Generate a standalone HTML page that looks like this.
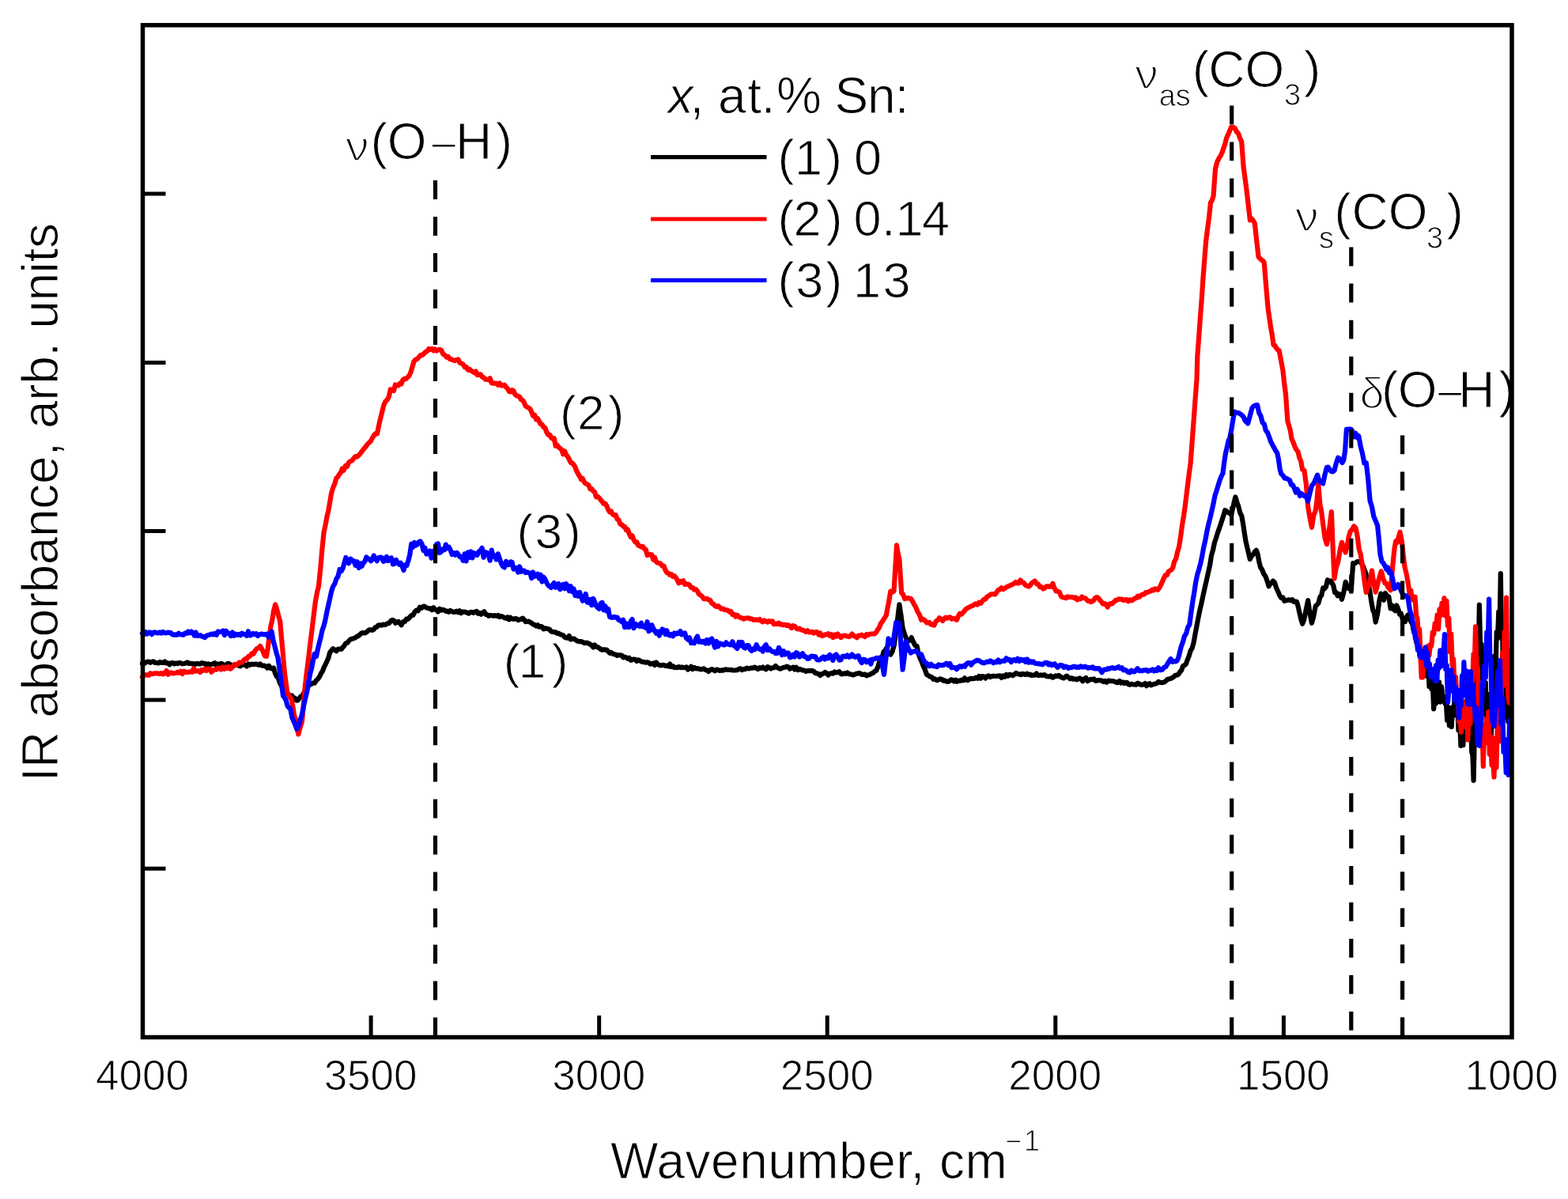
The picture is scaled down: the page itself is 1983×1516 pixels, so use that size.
<!DOCTYPE html>
<html><head><meta charset="utf-8"><title>IR absorbance spectra</title>
<style>html,body{margin:0;padding:0;background:#fff;}svg{display:block;}</style>
</head><body>
<svg width="1983" height="1516" viewBox="0 0 1983 1516">
<rect width="1983" height="1516" fill="#fff"/>
<style>text{stroke:#fff;stroke-width:1px}</style>
<g fill="none" stroke-linejoin="round" stroke-linecap="round" stroke-width="6.2">
<path d="M180.0,838.9 182.0,839.1 184.1,837.7 186.1,836.9 188.1,836.6 190.2,837.8 192.2,836.7 194.2,836.4 196.2,838.0 198.3,838.0 200.3,838.4 202.3,837.0 204.4,837.9 206.4,837.9 208.4,836.5 210.5,838.5 212.5,838.4 214.5,840.4 216.6,838.3 218.6,838.0 220.6,839.4 222.6,838.4 224.7,839.1 226.7,837.9 228.7,838.5 230.8,839.3 232.8,839.0 234.8,838.5 236.9,837.4 238.9,839.0 240.9,838.7 243.0,839.4 245.0,839.0 247.0,839.9 249.0,838.9 251.1,839.2 253.1,839.7 255.1,838.1 257.2,838.8 259.2,838.8 261.2,841.4 263.3,839.4 265.3,840.2 267.3,840.2 269.4,839.4 271.4,838.2 273.4,840.8 275.4,839.5 277.5,840.7 279.5,838.8 281.5,839.7 283.6,841.5 285.6,841.7 287.6,839.1 289.7,839.2 291.7,840.6 293.7,841.4 295.8,841.0 297.8,841.2 299.8,840.0 301.8,841.7 303.9,842.3 305.9,840.9 307.9,840.0 310.0,840.7 312.0,842.4 314.1,839.5 316.2,840.9 318.4,839.6 320.5,840.2 322.6,839.7 324.8,839.7 326.9,840.8 329.0,839.4 331.2,841.6 333.5,841.5 335.8,842.4 338.0,844.6 340.0,841.7 342.0,844.9 344.0,845.4 346.0,844.4 348.0,851.3 350.0,855.4 352.0,857.5 354.0,863.8 356.0,867.0 358.0,871.5 359.9,873.4 361.8,876.5 363.6,876.9 365.5,878.4 367.4,880.4 369.2,879.5 371.1,883.8 372.9,882.8 374.8,885.6 376.6,885.4 378.4,882.9 380.2,880.8 382.0,880.4 384.2,876.2 386.5,872.0 388.8,869.4 391.0,865.5 393.2,865.4 395.5,863.6 397.8,863.7 400.0,860.3 402.1,858.5 404.3,855.2 406.0,851.4 407.8,848.9 409.5,844.4 411.4,840.5 413.3,836.6 415.2,832.2 417.1,825.2 419.0,822.7 421.1,820.2 423.2,821.6 425.4,823.3 427.5,820.9 429.6,820.5 431.7,820.8 433.6,818.4 435.5,816.2 437.4,813.2 439.3,812.8 441.2,810.4 443.2,808.3 445.2,807.8 447.2,807.1 449.2,806.5 451.2,804.8 453.3,804.1 455.3,802.2 457.3,800.4 459.3,799.9 461.3,800.4 463.3,799.4 465.2,797.8 467.1,796.3 469.0,796.3 470.9,796.9 472.8,795.8 474.7,793.0 476.6,792.8 478.5,790.6 480.4,790.2 482.3,790.7 484.3,789.7 486.3,789.9 488.3,789.4 490.2,788.2 492.2,787.9 494.2,785.2 496.2,783.9 498.2,784.7 500.1,787.8 502.0,786.4 503.9,785.9 505.8,788.2 507.7,790.3 509.8,786.0 511.9,786.0 514.0,782.7 516.1,782.8 518.2,780.4 520.3,778.1 522.4,778.0 524.5,773.7 526.6,771.6 528.8,772.3 530.9,767.7 533.0,768.9 534.9,767.1 536.8,766.6 538.7,768.1 540.6,768.8 542.5,769.3 544.4,769.4 546.3,771.1 548.2,768.2 550.1,770.5 552.0,771.2 553.9,773.4 555.9,769.7 557.8,771.5 559.8,770.8 561.7,771.4 563.7,772.8 565.6,772.7 567.6,773.9 569.5,771.9 571.5,772.9 573.4,773.9 575.4,773.8 577.3,772.7 579.3,774.3 581.2,772.3 583.2,775.2 585.1,773.6 587.1,773.5 589.0,774.0 591.0,774.7 592.9,775.7 594.9,774.0 596.8,773.9 598.8,774.9 600.7,773.6 602.7,772.9 604.6,775.8 606.5,774.9 608.4,776.7 610.3,774.9 612.2,773.3 614.1,776.8 616.0,777.0 617.9,778.8 619.8,778.0 621.7,778.1 623.7,778.7 625.8,778.1 627.8,778.9 629.8,777.9 631.9,780.1 633.9,779.1 635.9,779.8 638.0,781.3 640.0,781.9 641.9,780.2 643.8,783.3 645.7,780.9 647.6,782.5 649.5,782.8 651.4,782.2 653.3,782.3 655.2,784.1 657.1,783.3 659.0,783.0 660.9,781.6 662.8,783.4 664.7,786.1 666.6,786.0 668.5,785.6 670.4,786.7 672.3,787.8 674.2,789.6 676.1,790.1 678.0,791.5 679.9,790.3 681.8,792.7 683.7,791.9 685.6,792.7 687.5,795.4 689.4,794.4 691.3,794.8 693.2,795.3 695.1,795.8 697.0,798.4 698.9,799.0 700.8,799.1 702.7,799.4 704.6,801.0 706.5,800.7 708.4,802.0 710.3,802.7 712.2,803.2 714.1,805.6 716.0,806.5 717.9,806.7 719.8,804.0 721.7,808.4 723.6,807.9 725.5,807.4 727.4,808.5 729.3,810.2 731.2,810.9 733.1,811.2 735.0,811.1 736.9,811.7 738.8,813.1 740.7,812.8 742.6,812.7 744.5,813.6 746.4,814.7 748.3,815.8 750.2,818.4 752.1,815.4 754.0,817.9 755.9,818.1 757.8,819.3 759.7,821.1 761.6,821.8 763.5,821.2 765.4,821.6 767.3,821.6 769.2,823.6 771.1,825.8 773.0,825.0 774.9,826.6 776.8,827.3 778.7,827.6 780.6,828.9 782.5,828.3 784.4,828.3 786.3,828.5 788.2,831.3 790.1,830.6 792.0,831.3 793.9,832.9 795.8,831.8 797.7,834.8 799.6,834.2 801.5,833.5 803.4,833.8 805.3,836.0 807.2,834.3 809.1,835.3 811.0,836.4 812.9,836.9 814.8,837.1 816.7,837.7 818.6,837.3 820.5,837.9 822.4,839.6 824.3,839.3 826.2,838.5 828.1,841.0 830.0,837.6 831.9,840.0 833.8,840.9 835.7,841.5 837.6,841.0 839.5,840.8 841.4,842.0 843.3,841.6 845.2,842.6 847.1,839.5 849.0,843.1 850.9,842.1 852.8,844.0 854.7,843.9 856.6,844.1 858.5,843.1 860.4,844.1 862.3,843.5 864.2,844.2 866.1,844.0 868.0,843.4 870.0,846.5 872.0,845.4 874.0,842.8 876.0,846.0 878.0,843.9 880.0,845.3 882.0,845.2 884.0,845.5 886.0,846.5 888.1,846.2 890.1,845.3 892.1,847.0 894.1,847.5 896.1,849.0 898.2,846.9 900.2,846.2 902.2,847.1 904.2,848.3 906.2,846.7 908.2,846.8 910.2,848.0 912.3,847.4 914.3,847.6 916.3,846.7 918.3,846.4 920.3,846.9 922.4,847.0 924.4,846.8 926.4,847.5 928.4,847.5 930.4,847.4 932.4,847.2 934.5,845.7 936.5,845.3 938.5,847.1 940.5,846.1 942.5,846.1 944.5,844.6 946.5,845.4 948.6,844.9 950.6,844.5 952.6,844.6 954.6,843.6 956.6,845.1 958.6,846.1 960.7,844.1 962.7,844.8 964.7,843.5 966.7,845.2 968.7,846.3 970.8,843.1 972.8,844.0 974.8,845.5 976.8,844.4 978.8,844.2 980.8,842.1 982.8,844.0 984.9,845.1 986.9,845.7 988.9,844.9 990.9,843.8 992.9,843.7 995.0,842.6 997.0,843.4 999.0,845.7 1001.0,844.5 1003.0,843.6 1005.0,846.5 1007.0,843.8 1009.1,847.1 1011.1,845.8 1013.1,846.7 1015.1,847.5 1017.1,847.5 1019.2,848.9 1021.2,848.1 1023.2,848.2 1025.2,848.2 1027.2,847.9 1029.2,849.0 1031.2,851.1 1033.3,851.3 1035.3,852.3 1037.3,854.0 1039.3,852.0 1041.3,851.8 1043.3,850.0 1045.4,851.1 1047.4,853.5 1049.4,851.8 1051.4,851.2 1053.4,851.6 1055.5,849.4 1057.5,850.5 1059.5,850.0 1061.5,849.2 1063.5,852.1 1065.5,852.4 1067.5,851.3 1069.6,851.8 1071.6,850.5 1073.6,852.1 1075.6,852.4 1077.6,853.2 1079.7,853.3 1081.7,852.3 1083.7,851.7 1085.7,851.1 1087.7,851.4 1089.8,852.8 1091.8,852.9 1093.9,852.5 1095.9,854.3 1098.0,853.4 1100.0,852.9 1102.1,851.7 1104.2,850.9 1106.2,848.8 1108.3,847.7 1110.4,842.8 1112.5,835.7 1114.2,831.9 1116.0,829.3 1117.7,823.8 1119.3,823.1 1121.0,819.6 1122.8,824.4 1124.5,826.6 1126.3,827.6 1128.7,823.4 1131.0,814.8 1133.1,796.1 1135.3,781.2 1137.4,764.4 1139.5,778.2 1141.6,794.1 1143.4,799.9 1145.3,805.4 1147.1,809.7 1149.0,809.8 1150.8,809.7 1152.7,806.1 1155.0,811.5 1157.3,816.1 1159.6,816.9 1161.4,825.9 1163.3,831.6 1165.1,835.5 1167.4,841.5 1169.7,846.4 1172.0,852.9 1174.1,854.2 1176.2,855.6 1178.3,856.0 1180.4,858.8 1182.5,858.4 1184.6,860.1 1186.6,859.8 1188.7,858.3 1190.8,858.7 1192.8,860.6 1194.9,860.4 1197.0,861.7 1198.9,861.9 1200.8,861.1 1202.8,859.3 1204.7,859.7 1206.6,861.4 1208.5,859.7 1210.4,861.8 1212.3,860.5 1214.2,861.0 1216.2,859.6 1218.1,860.3 1220.0,857.3 1222.0,859.7 1224.0,860.1 1226.1,858.2 1228.1,857.9 1230.1,858.2 1232.1,858.0 1234.2,856.7 1236.2,857.8 1238.2,855.1 1240.2,857.7 1242.2,855.1 1244.3,855.6 1246.3,857.6 1248.3,855.2 1250.3,854.4 1252.3,856.1 1254.4,855.0 1256.4,854.7 1258.4,855.0 1260.4,854.9 1262.5,854.5 1264.5,854.4 1266.5,856.9 1268.5,854.4 1270.6,855.8 1272.6,853.1 1274.7,854.8 1276.7,852.8 1278.8,853.3 1280.8,854.2 1282.9,852.7 1284.9,851.0 1287.0,852.2 1289.0,852.3 1291.0,853.2 1293.0,851.8 1294.9,852.6 1296.9,853.1 1298.9,851.6 1300.9,853.2 1302.9,852.7 1304.8,854.1 1306.8,853.6 1308.8,853.7 1310.8,851.6 1312.8,854.0 1314.8,853.8 1316.9,853.4 1318.9,853.9 1320.9,853.2 1322.9,854.8 1324.9,855.4 1326.9,855.4 1328.9,854.4 1331.0,856.7 1333.0,856.0 1335.0,854.3 1337.0,855.2 1339.0,853.9 1341.0,855.6 1343.1,856.6 1345.1,857.4 1347.1,855.9 1349.1,854.7 1351.2,856.5 1353.2,858.3 1355.2,857.2 1357.2,858.6 1359.2,858.3 1361.3,859.3 1363.3,858.5 1365.3,857.4 1367.3,858.8 1369.3,861.1 1371.4,858.2 1373.4,857.1 1375.4,861.2 1377.4,859.8 1379.4,858.9 1381.5,859.2 1383.5,858.4 1385.5,860.9 1387.5,860.5 1389.6,860.0 1391.6,860.4 1393.6,860.6 1395.6,862.2 1397.6,861.0 1399.6,862.7 1401.7,860.6 1403.7,860.9 1405.7,861.1 1407.7,861.2 1409.7,861.7 1411.7,862.9 1413.7,863.2 1415.8,861.0 1417.8,863.5 1419.8,862.4 1421.8,864.0 1423.6,862.9 1425.3,863.0 1427.1,865.3 1428.9,865.8 1430.8,864.8 1432.7,865.3 1434.7,865.5 1436.6,865.8 1438.5,863.8 1440.4,864.4 1442.3,865.7 1444.2,866.0 1446.2,865.2 1448.1,864.1 1450.0,867.2 1451.9,865.2 1453.8,864.1 1455.6,866.4 1457.5,865.6 1459.4,865.1 1461.2,864.6 1463.1,863.9 1465.0,862.0 1467.5,862.9 1470.0,863.1 1472.1,862.5 1474.1,861.4 1476.2,859.1 1478.2,858.6 1480.3,858.0 1482.3,857.2 1484.4,855.7 1486.4,853.9 1488.5,853.6 1490.4,852.5 1492.3,849.5 1494.2,847.5 1496.0,842.3 1497.9,841.2 1499.8,839.8 1501.7,834.3 1503.7,829.3 1505.7,822.7 1507.6,819.7 1509.6,812.5 1511.6,801.4 1513.5,791.5 1515.5,780.8 1517.5,771.2 1519.6,762.0 1521.7,752.2 1523.9,742.1 1526.0,733.1 1528.1,723.6 1530.1,714.7 1532.0,702.5 1534.0,695.5 1536.0,686.0 1537.9,680.4 1539.8,674.3 1541.7,668.9 1543.5,663.8 1545.4,657.8 1547.3,652.1 1549.2,645.2 1551.2,646.3 1553.2,648.2 1555.1,648.4 1557.1,651.0 1558.9,643.6 1560.6,635.6 1562.4,628.5 1564.4,635.2 1566.3,640.4 1568.3,648.4 1570.3,652.4 1572.1,662.2 1573.8,673.9 1575.6,684.9 1577.3,692.1 1579.1,699.6 1580.8,707.0 1582.8,703.1 1584.8,701.2 1586.8,697.7 1588.8,695.8 1590.5,700.4 1592.3,710.3 1594.0,717.1 1596.1,720.1 1598.2,725.6 1600.4,728.5 1602.5,734.4 1604.6,741.3 1606.4,738.2 1608.1,737.0 1609.9,734.6 1612.0,736.6 1614.1,743.3 1616.2,747.8 1618.3,752.8 1620.4,756.1 1622.4,755.5 1624.4,759.9 1626.4,759.3 1628.3,758.8 1630.3,758.3 1632.3,759.3 1634.3,758.2 1636.3,760.8 1638.2,760.6 1640.0,760.9 1641.8,767.3 1643.5,775.2 1645.3,782.8 1647.1,788.7 1648.9,784.6 1650.7,775.8 1652.4,768.0 1654.2,759.2 1656.6,775.7 1659.0,787.8 1661.3,779.3 1663.7,766.5 1665.6,764.6 1667.5,762.3 1669.4,755.0 1671.3,752.5 1673.2,743.5 1675.1,744.4 1677.0,741.9 1678.9,733.4 1680.8,736.0 1682.7,734.5 1684.5,737.2 1686.3,740.2 1688.1,749.2 1689.9,749.0 1691.7,753.4 1693.5,751.1 1695.2,751.9 1697.0,757.8 1699.3,749.0 1701.7,735.8 1703.5,740.9 1705.2,743.9 1707.0,743.5 1708.8,746.8 1711.2,712.0 1713.6,712.4 1716.0,710.4 1717.9,710.0 1719.8,710.1 1721.7,712.1 1723.6,715.4 1725.5,720.4 1727.3,724.5 1729.0,737.1 1730.8,738.9 1732.6,749.3 1734.4,761.1 1736.2,771.0 1737.9,775.1 1739.7,786.6 1742.1,776.2 1744.5,759.0 1746.4,750.6 1748.3,755.1 1750.1,758.7 1752.0,750.0 1753.9,753.6 1756.3,754.2 1758.7,769.4 1760.6,765.5 1762.5,770.5 1764.4,772.2 1766.3,765.5 1768.2,769.9 1770.0,776.7 1771.8,775.6 1773.5,781.9 1775.3,782.8 1777.1,786.1 1778.8,780.2 1780.6,777.5 1782.4,779.1 1784.3,786.0 1786.2,788.5 1788.1,799.4 1790.0,799.3 1791.3,812.5 1792.7,807.2 1794.0,820.2 1795.3,818.8 1796.7,827.3 1798.0,828.9 1799.3,841.2 1800.7,832.7 1802.0,843.9 1803.3,837.9 1804.7,854.7 1806.0,838.3 1807.5,868.0 1808.9,852.2 1810.3,871.1 1811.8,864.5 1813.2,896.3 1814.7,874.2 1816.0,889.3 1817.3,866.4 1818.7,877.7 1820.0,862.3 1821.5,887.6 1823.0,868.2 1824.5,881.7 1826.0,880.7 1827.4,889.5 1828.8,886.4 1830.2,910.8 1831.5,894.1 1832.9,917.2 1834.3,901.1 1835.7,919.0 1837.2,894.2 1838.6,904.9 1840.0,870.5 1841.5,898.0 1843.0,883.0 1844.5,923.5 1845.9,904.3 1847.4,942.9 1848.9,911.2 1850.4,942.1 1852.0,902.6 1853.5,920.0 1855.0,885.9 1856.2,919.9 1857.5,899.6 1858.8,921.9 1860.0,902.0 1861.2,950.7 1862.4,954.9 1863.6,986.8 1865.3,908.0 1867.0,895.3 1868.3,830.2 1869.6,833.5 1870.9,764.6 1872.3,824.3 1873.6,814.3 1875.0,868.6 1876.2,840.9 1877.5,901.6 1878.8,863.1 1880.0,915.2 1881.4,877.8 1882.8,939.3 1884.1,900.4 1885.5,941.5 1887.0,887.5 1888.5,898.7 1890.0,829.7 1891.3,864.9 1892.7,799.1 1894.0,807.7 1895.3,773.4 1896.5,797.7 1897.8,725.0 1898.9,795.5 1900.0,790.7 1901.3,875.7 1902.6,843.5 1904.3,907.4 1906.0,888.4 1907.3,912.7 1908.7,842.3 1910.0,884.3" stroke="#000"/>
<path d="M180.0,856.1 182.0,852.6 184.1,853.7 186.1,853.3 188.1,853.9 190.2,851.3 192.2,852.3 194.2,851.8 196.2,851.3 198.3,851.4 200.3,851.7 202.3,851.8 204.4,851.0 206.4,852.3 208.4,851.1 210.5,848.1 212.5,852.8 214.5,850.9 216.6,850.4 218.6,851.4 220.6,851.2 222.6,850.9 224.7,849.8 226.7,850.8 228.7,848.8 230.8,851.9 232.8,848.8 234.8,849.8 236.9,849.9 238.9,849.9 240.9,849.2 243.0,849.8 245.0,845.1 247.0,848.7 249.0,848.5 251.1,848.0 253.1,850.0 255.1,847.0 257.2,847.8 259.2,845.5 261.2,847.9 263.3,845.6 265.3,845.5 267.3,849.7 269.4,847.6 271.4,846.7 273.4,846.7 275.4,844.7 277.5,845.0 279.5,846.5 281.5,843.5 283.6,845.9 285.6,843.5 287.5,845.0 289.3,843.1 291.2,845.7 293.1,844.3 295.0,842.0 296.8,839.9 298.7,840.6 300.6,840.1 302.5,837.7 304.4,837.8 306.3,837.3 308.2,834.8 310.1,833.1 312.0,833.1 314.1,830.1 316.2,829.6 318.4,826.4 320.5,826.8 322.6,822.8 324.8,820.1 326.9,819.6 329.0,816.9 331.0,820.3 333.0,824.8 335.0,829.4 337.0,829.8 338.8,819.0 340.5,805.7 342.3,792.5 344.3,783.9 346.2,771.8 348.2,764.3 350.2,770.7 352.2,778.6 354.2,785.6 355.9,805.4 357.7,825.0 359.4,845.9 361.4,862.3 363.4,875.7 365.2,878.9 366.9,882.0 368.7,884.3 370.5,894.4 372.2,904.9 374.0,910.0 375.6,920.3 377.3,928.4 379.6,919.7 382.0,912.3 383.9,889.9 385.8,867.7 388.0,849.1 390.2,831.9 392.4,812.9 394.6,795.8 396.8,777.5 399.0,760.0 401.0,749.1 403.0,740.9 405.2,719.9 407.3,695.2 409.5,673.6 411.4,664.7 413.3,654.2 415.2,646.1 417.1,635.6 419.0,623.9 421.1,616.8 423.2,612.1 425.3,604.6 427.2,603.1 429.1,599.6 431.0,597.3 432.9,592.4 434.8,594.7 436.9,589.0 439.0,589.9 441.1,584.5 443.3,583.1 445.4,582.3 447.5,579.3 449.6,577.0 451.7,577.6 453.9,575.4 456.0,573.1 458.1,570.1 460.2,567.5 462.3,565.1 464.4,562.1 466.5,559.9 468.6,558.1 470.7,554.1 472.8,550.6 474.9,548.2 477.0,548.5 479.1,537.9 481.2,529.0 483.4,520.1 485.5,511.7 487.6,507.5 489.7,505.5 491.8,501.5 493.8,492.4 495.9,493.0 498.0,494.1 499.9,486.5 501.8,487.3 503.8,487.5 505.7,484.6 507.6,485.4 509.5,480.2 511.4,478.9 513.4,479.2 515.3,477.2 517.2,475.4 519.3,471.2 521.4,464.1 523.5,457.0 525.6,454.6 527.7,453.9 529.8,451.6 532.0,448.9 534.1,449.0 536.2,447.1 538.3,444.9 540.4,444.0 542.3,440.9 544.3,441.9 546.2,440.9 548.2,443.3 550.1,441.6 552.1,443.6 554.0,442.4 556.1,441.8 558.3,443.0 560.4,447.7 562.6,448.9 564.7,451.5 566.8,450.9 568.9,454.2 571.0,454.3 573.1,455.4 575.2,456.1 577.3,455.0 579.4,454.4 581.5,458.6 583.6,459.4 585.8,460.9 587.9,464.4 590.0,464.2 592.0,467.8 594.0,466.9 595.9,468.9 597.9,469.8 599.9,471.4 601.8,469.5 603.8,474.2 605.8,474.0 607.8,473.3 609.8,476.7 611.8,477.3 613.8,479.7 615.7,479.8 617.7,480.3 619.7,478.3 621.7,484.2 623.7,484.7 625.8,484.5 627.8,484.8 629.8,486.8 631.9,484.5 633.9,487.6 635.9,487.4 638.0,486.7 640.0,489.6 641.9,491.2 643.8,494.9 645.7,495.4 647.6,493.2 649.5,494.3 651.4,498.8 653.3,500.2 655.2,500.8 657.1,501.7 659.0,505.2 660.9,506.0 662.8,508.9 664.7,513.5 666.6,514.7 668.5,515.5 670.4,517.1 672.3,520.8 674.2,525.9 676.1,524.7 678.0,530.3 679.9,529.0 681.8,532.4 683.7,536.3 685.6,536.7 687.5,540.4 689.4,540.8 691.3,546.4 693.2,549.7 695.1,549.5 697.0,553.3 698.9,554.6 700.8,554.2 702.7,563.8 704.6,562.8 706.5,565.3 708.4,566.9 710.3,568.8 712.2,574.3 714.1,570.2 716.0,574.7 717.9,577.4 719.8,580.6 721.7,584.8 723.6,585.5 725.5,587.5 727.4,590.6 729.3,595.8 731.2,599.4 733.1,602.1 735.0,606.1 736.9,605.1 738.8,609.6 740.7,611.4 742.6,612.3 744.5,613.6 746.4,618.3 748.3,618.1 750.2,620.9 752.1,622.1 754.0,628.4 755.9,627.9 757.8,629.5 759.7,632.1 761.6,634.3 763.5,637.0 765.4,636.6 767.3,639.6 769.2,644.3 771.1,647.4 773.0,646.5 774.9,650.4 776.8,651.6 778.7,651.2 780.6,656.4 782.5,657.5 784.4,662.6 786.3,663.2 788.2,665.7 790.1,665.8 792.0,670.4 793.9,669.5 795.8,674.9 797.7,678.9 799.6,677.2 801.5,682.5 803.4,685.6 805.3,685.4 807.2,689.6 809.1,690.2 811.0,691.6 812.9,690.9 814.8,693.9 816.7,694.8 818.6,702.2 820.5,700.6 822.4,701.6 824.3,701.4 826.2,707.6 828.1,704.9 830.0,710.4 831.9,711.7 833.8,712.1 835.7,712.9 837.6,715.7 839.5,715.7 841.4,720.6 843.3,724.0 845.2,724.7 847.1,726.9 849.0,726.1 850.9,728.9 852.8,728.2 854.7,730.3 856.6,733.3 858.5,737.3 860.4,734.9 862.3,736.1 864.2,734.4 866.1,738.8 868.0,738.4 870.0,738.6 872.0,739.5 874.0,742.9 876.0,743.0 878.0,745.6 880.0,745.1 882.0,747.4 884.0,751.5 886.0,752.4 888.1,754.3 890.1,757.2 892.1,757.2 894.1,756.8 896.1,758.5 898.2,758.8 900.2,763.0 902.2,763.5 904.2,766.0 906.2,767.1 908.2,766.1 910.2,768.0 912.3,770.0 914.3,769.5 916.3,771.2 918.3,771.2 920.3,771.6 922.3,773.6 924.4,773.0 926.4,777.1 928.4,776.9 930.4,779.8 932.4,777.7 934.5,780.0 936.5,781.1 938.5,781.3 940.5,782.7 942.5,781.7 944.5,781.5 946.5,781.3 948.6,782.5 950.6,782.4 952.6,783.8 954.6,783.5 956.6,783.6 958.7,783.9 960.7,783.0 962.7,785.1 964.7,786.4 966.7,784.4 968.7,785.6 970.8,786.6 972.8,785.1 974.8,786.1 976.8,785.4 978.8,789.2 980.8,788.7 982.8,789.1 984.9,787.6 986.9,789.7 988.9,789.4 990.9,790.4 992.9,789.8 995.0,791.0 997.0,790.3 999.0,791.9 1001.0,794.0 1003.0,791.1 1005.0,791.7 1007.0,794.4 1009.1,795.3 1011.1,794.6 1013.1,796.3 1015.1,796.7 1017.1,797.4 1019.2,798.9 1021.2,797.3 1023.2,799.3 1025.2,799.4 1027.2,798.8 1029.2,800.6 1031.2,799.0 1033.3,799.2 1035.3,802.5 1037.3,800.5 1039.3,804.0 1041.3,803.7 1043.3,802.3 1045.4,802.3 1047.4,801.2 1049.4,804.0 1051.4,802.4 1053.4,806.1 1055.5,802.5 1057.5,804.6 1059.5,801.5 1061.5,804.3 1063.5,806.1 1065.5,804.0 1067.5,803.5 1069.6,803.8 1071.6,804.6 1073.6,805.1 1075.6,803.7 1077.6,801.6 1079.7,804.1 1081.7,804.8 1083.7,806.2 1085.7,803.7 1087.7,803.6 1089.8,802.7 1091.8,804.0 1093.8,805.1 1095.9,801.9 1097.9,803.0 1100.0,801.8 1102.1,801.5 1104.2,801.4 1106.2,801.4 1108.3,799.3 1110.2,795.7 1112.0,793.5 1113.9,788.4 1116.2,785.3 1118.5,781.7 1120.8,777.8 1122.6,768.3 1124.5,758.3 1126.3,747.6 1128.4,748.7 1130.5,747.6 1132.2,719.5 1134.0,689.4 1135.7,699.9 1137.4,708.0 1140.2,749.8 1142.2,751.8 1144.3,757.2 1146.2,756.5 1148.0,756.1 1149.9,756.6 1152.0,757.0 1154.0,760.1 1156.1,764.3 1158.2,767.7 1160.5,773.6 1162.8,777.1 1165.1,783.8 1167.4,782.8 1169.7,784.3 1172.0,787.5 1173.8,787.4 1175.5,786.9 1177.2,789.7 1179.0,789.6 1181.3,790.6 1183.6,785.6 1185.9,784.2 1188.0,781.2 1190.1,782.8 1192.1,785.0 1194.2,782.1 1196.0,780.7 1197.9,781.6 1199.8,780.5 1201.6,780.3 1203.5,782.7 1205.3,781.8 1207.7,782.5 1210.0,783.8 1212.0,778.8 1214.0,775.7 1216.0,776.7 1218.1,774.3 1220.1,771.9 1222.1,769.7 1224.1,768.6 1226.1,767.6 1228.1,766.5 1230.1,765.9 1232.2,764.3 1234.2,763.3 1236.2,764.5 1238.2,761.8 1240.2,762.9 1242.3,760.0 1244.3,757.9 1246.3,757.7 1248.3,754.5 1250.4,753.4 1252.4,751.8 1254.4,751.2 1256.4,751.0 1258.4,751.5 1260.5,748.8 1262.5,746.0 1264.5,745.3 1266.5,743.2 1268.5,745.0 1270.5,744.2 1272.5,742.5 1274.6,741.5 1276.6,740.7 1278.6,739.6 1280.6,738.8 1282.6,737.8 1284.6,735.9 1286.5,737.5 1288.5,737.4 1290.5,733.5 1292.6,736.5 1294.8,736.9 1296.9,740.1 1299.0,740.7 1301.0,741.5 1302.9,740.0 1304.9,737.1 1306.8,735.9 1308.8,734.6 1310.9,738.1 1313.0,738.5 1315.2,742.2 1317.3,742.2 1319.3,744.6 1321.3,743.5 1323.3,741.3 1325.4,741.3 1327.4,742.0 1329.4,741.7 1331.4,737.8 1333.5,743.6 1335.6,747.4 1337.8,747.5 1339.9,748.9 1342.0,754.1 1344.1,755.4 1346.1,755.5 1348.2,756.2 1350.2,754.3 1352.2,755.1 1354.2,754.8 1356.3,755.0 1358.3,756.1 1360.3,755.3 1362.3,758.3 1364.3,757.1 1366.4,757.4 1368.4,754.6 1370.4,756.2 1372.4,756.3 1374.2,758.1 1375.9,759.8 1377.7,759.8 1379.4,761.1 1381.3,760.4 1383.2,759.0 1385.1,756.0 1387.0,755.0 1389.0,756.0 1390.9,758.7 1392.8,760.6 1394.8,763.6 1396.7,763.0 1398.7,764.0 1400.6,767.6 1402.6,764.4 1404.6,763.0 1406.6,763.4 1408.7,761.3 1410.7,759.1 1412.7,758.8 1414.7,757.4 1416.7,757.8 1418.8,757.5 1420.8,759.1 1422.8,758.3 1424.8,758.2 1426.9,760.3 1428.9,758.3 1430.9,759.3 1432.9,758.4 1434.9,756.6 1437.0,756.3 1439.0,753.6 1441.0,754.8 1443.0,752.5 1445.0,751.5 1447.0,751.6 1449.0,749.2 1451.1,749.0 1453.1,748.1 1455.1,747.6 1457.1,745.6 1458.9,746.4 1460.7,744.4 1462.4,744.8 1464.2,745.9 1466.1,743.4 1468.1,739.6 1470.0,735.4 1472.0,730.8 1474.0,727.0 1475.8,727.2 1477.7,722.8 1479.5,721.5 1481.4,720.3 1483.2,718.0 1485.2,710.1 1487.2,706.5 1489.1,697.9 1491.1,691.4 1493.1,678.8 1495.0,664.4 1497.0,652.3 1499.0,638.2 1501.2,619.8 1503.4,602.1 1505.6,586.0 1507.6,559.3 1509.6,532.6 1511.5,505.9 1513.5,479.7 1514.4,449.5 1516.2,426.1 1518.0,400.8 1519.8,377.6 1521.5,351.5 1523.3,328.6 1525.1,305.4 1527.1,289.3 1529.0,275.3 1531.0,256.4 1532.8,253.3 1534.6,247.6 1537.0,213.6 1539.3,204.7 1541.7,199.8 1543.7,197.0 1545.7,192.5 1547.7,186.5 1549.5,181.2 1551.2,174.3 1553.2,170.1 1555.2,165.3 1557.2,160.5 1559.6,160.8 1561.9,162.4 1564.0,166.7 1566.1,168.8 1568.1,174.6 1570.2,179.1 1572.6,211.0 1574.9,227.9 1577.3,247.0 1579.1,262.4 1580.9,278.5 1582.9,276.5 1584.8,278.8 1586.8,282.2 1589.2,304.0 1591.6,325.0 1593.4,326.6 1595.2,328.5 1596.9,329.5 1598.7,331.8 1601.1,360.8 1603.4,388.0 1605.2,401.1 1607.0,413.3 1608.8,423.4 1610.6,436.2 1612.4,436.8 1614.2,440.3 1615.9,442.3 1617.7,443.3 1620.1,455.8 1622.4,468.2 1624.2,484.6 1626.0,498.5 1628.4,532.4 1630.1,538.2 1631.9,544.8 1633.6,555.0 1635.6,559.4 1637.5,564.6 1639.5,568.6 1641.5,571.1 1643.4,578.9 1645.2,582.9 1647.1,593.6 1649.5,595.0 1651.9,612.6 1654.2,641.0 1656.6,654.9 1659.0,666.8 1661.3,651.5 1663.7,645.8 1665.5,632.1 1667.3,612.3 1669.3,637.5 1671.2,646.6 1673.2,662.8 1675.6,680.4 1678.0,688.1 1680.0,677.0 1681.9,662.9 1683.9,647.0 1685.7,692.8 1687.5,731.6 1689.8,717.4 1692.2,710.5 1694.6,695.8 1697.0,685.8 1699.3,692.7 1701.7,698.5 1703.7,690.6 1705.7,678.8 1707.7,671.9 1710.0,669.2 1712.3,665.3 1714.6,667.8 1716.6,677.9 1718.7,694.0 1720.7,700.8 1722.5,712.7 1724.2,723.7 1726.0,738.0 1727.8,748.9 1729.6,742.8 1731.4,740.6 1733.2,731.7 1735.0,721.5 1737.3,737.2 1739.7,748.6 1741.5,741.4 1743.2,734.5 1745.0,728.1 1746.8,722.4 1749.2,731.6 1751.6,737.5 1753.4,737.7 1755.2,742.1 1756.9,744.0 1758.7,746.2 1761.1,717.8 1763.4,694.4 1765.2,684.2 1767.0,686.0 1768.8,678.7 1770.6,672.8 1772.6,682.8 1774.5,700.0 1776.5,716.8 1778.5,725.0 1780.4,734.7 1782.4,749.0 1784.2,746.6 1786.0,757.6 1787.8,759.2 1789.6,754.6 1791.0,777.8 1792.4,781.4 1793.8,801.3 1795.2,795.6 1796.5,831.0 1797.7,856.5 1799.1,856.5 1800.6,839.7 1802.0,842.4 1803.3,826.5 1804.7,840.3 1806.1,816.9 1807.4,829.0 1808.9,815.1 1810.3,816.7 1811.8,799.7 1813.2,801.9 1814.7,788.4 1816.2,793.0 1817.6,777.7 1819.1,795.3 1820.5,770.3 1822.0,778.5 1823.5,762.8 1825.0,776.8 1826.4,756.4 1827.9,778.3 1829.4,759.8 1830.9,791.0 1832.3,781.5 1833.8,824.4 1835.2,801.6 1836.7,841.1 1838.1,833.2 1839.6,871.9 1841.0,856.1 1842.4,885.9 1843.8,876.8 1845.1,912.4 1846.5,908.1 1848.0,925.7 1849.5,886.6 1851.0,904.1 1852.3,892.0 1853.7,919.4 1855.0,904.6 1856.3,935.4 1857.9,893.3 1859.4,915.1 1861.0,851.5 1862.2,862.9 1863.5,827.1 1864.8,840.1 1866.0,792.4 1867.3,839.6 1868.7,845.6 1870.0,903.7 1871.5,887.8 1872.9,939.0 1874.3,916.6 1875.8,969.0 1877.1,924.2 1878.4,939.7 1879.7,909.2 1881.0,922.0 1882.4,899.9 1883.8,953.6 1885.2,931.1 1886.6,967.5 1888.0,958.2 1889.5,982.5 1890.9,933.5 1892.4,970.3 1893.8,914.3 1895.3,937.7 1896.9,866.1 1898.4,886.8 1900.0,825.6 1901.3,866.6 1902.5,799.3 1903.8,813.7 1905.1,755.5 1906.3,861.9 1907.5,881.7 1908.8,888.7 1910.0,822.6" stroke="#f00"/>
<path d="M180.0,800.8 182.0,802.2 184.0,799.1 186.0,801.5 188.0,799.7 190.0,799.5 192.0,802.1 194.0,799.7 196.0,799.3 198.0,800.1 200.0,800.5 202.0,799.4 204.0,800.6 206.0,798.9 208.0,800.1 210.0,800.4 212.0,799.7 214.0,799.8 216.0,800.1 218.0,802.3 220.0,802.8 222.0,802.4 224.0,802.7 226.0,800.7 228.0,802.1 230.0,802.3 232.0,802.8 234.0,800.5 236.0,800.9 238.0,798.6 240.0,800.3 241.9,798.5 243.8,799.9 245.7,803.5 247.6,799.6 249.5,803.9 251.4,803.6 253.3,803.2 255.2,804.6 257.1,805.0 259.0,806.1 261.1,803.9 263.2,803.0 265.3,802.5 267.4,801.5 269.5,802.3 271.6,800.9 273.7,802.8 275.8,798.5 277.9,799.0 280.0,798.8 282.0,797.6 284.0,803.1 286.0,797.8 288.0,800.8 290.0,800.8 292.0,804.0 294.0,799.5 296.0,803.8 298.0,801.7 300.0,802.8 302.0,801.9 304.0,803.3 306.0,800.7 308.0,801.8 310.0,802.1 312.0,803.8 314.0,798.3 316.0,803.5 318.0,802.8 320.0,801.0 322.0,802.1 324.0,801.2 326.0,804.0 328.0,802.2 330.0,801.7 331.9,801.9 333.9,802.1 335.8,802.3 337.8,801.6 339.7,805.6 341.7,800.6 343.6,798.6 345.6,810.3 347.6,817.5 349.5,825.3 351.5,831.7 353.7,847.3 355.8,863.4 358.0,879.8 359.9,881.8 361.8,885.8 363.6,892.7 365.5,894.8 367.4,896.7 369.4,907.4 371.4,911.7 373.3,916.3 375.3,921.9 377.5,917.7 379.7,910.1 381.9,903.6 384.1,892.3 386.3,882.3 388.5,873.4 390.3,862.2 392.2,851.6 394.0,845.1 395.9,835.1 397.7,826.9 400.0,830.1 401.9,820.7 403.8,813.1 405.7,805.6 407.6,796.6 409.5,791.4 411.4,784.0 413.3,774.2 415.2,765.5 417.1,757.2 419.0,748.3 421.1,741.7 423.2,738.4 425.4,732.0 427.5,728.7 429.6,719.9 431.7,722.1 433.6,718.5 435.5,711.6 437.4,705.0 439.3,710.7 441.2,712.2 443.3,706.6 445.4,708.6 447.5,709.3 449.6,714.8 451.7,710.2 453.8,718.0 455.7,712.5 457.6,715.9 459.5,711.8 461.4,709.9 463.3,704.4 465.2,706.3 467.1,706.9 469.0,709.3 470.9,706.8 472.8,702.5 474.8,706.8 476.8,709.1 478.9,705.3 480.9,704.6 482.9,705.0 484.9,709.7 486.9,709.0 488.9,704.0 491.0,709.0 493.0,706.2 495.0,705.5 497.0,713.4 499.0,712.7 501.0,707.9 503.0,711.5 505.0,713.8 506.9,711.9 508.7,716.0 510.5,721.0 512.4,714.4 514.4,714.9 516.3,709.2 518.3,701.2 520.3,687.5 522.2,691.9 524.1,686.0 526.0,689.6 527.9,688.2 529.8,685.2 531.7,684.5 533.6,688.0 535.5,696.1 537.4,692.6 539.3,700.5 541.4,700.0 543.5,696.6 545.6,705.7 547.8,696.8 549.9,703.8 552.0,688.2 554.0,687.4 556.0,699.0 557.9,697.8 559.9,694.4 561.9,695.3 563.8,688.6 565.8,693.2 567.8,691.8 569.8,695.9 571.8,701.1 573.8,699.3 575.8,701.6 577.7,698.9 579.7,701.1 581.7,704.2 583.7,704.0 585.7,708.8 587.7,700.3 589.6,709.4 591.6,698.3 593.6,704.9 595.5,697.5 597.5,705.4 599.5,699.2 601.5,700.4 603.5,701.9 605.6,697.3 607.6,696.1 609.6,692.8 611.6,704.8 613.6,698.2 615.6,698.8 617.7,701.1 619.7,708.7 621.7,695.6 623.7,703.9 625.8,702.8 627.8,707.4 629.8,700.3 631.9,706.5 633.9,712.2 635.9,716.0 638.0,717.4 640.0,709.8 641.9,713.9 643.8,714.1 645.7,710.3 647.6,710.9 649.5,719.6 651.4,718.5 653.3,717.9 655.2,723.6 657.1,716.4 659.0,722.7 660.9,721.3 662.8,721.5 664.7,724.0 666.6,723.4 668.5,724.2 670.4,724.6 672.3,731.1 674.2,723.5 676.1,728.8 678.0,727.8 679.9,725.8 681.8,731.3 683.7,726.8 685.6,735.5 687.5,729.8 689.4,732.4 691.3,736.7 693.2,740.0 695.1,741.6 697.0,743.0 698.9,739.4 700.8,737.0 702.7,742.7 704.6,742.2 706.5,738.0 708.4,745.2 710.3,742.8 712.2,738.9 714.1,744.3 716.0,738.2 717.9,741.1 719.8,747.0 721.7,741.2 723.6,748.2 725.5,744.4 727.4,753.2 729.3,749.2 731.2,753.7 733.1,748.9 735.0,754.4 736.9,759.7 738.8,758.5 740.7,750.9 742.6,761.5 744.5,762.0 746.4,758.1 748.3,765.2 750.2,756.9 752.1,761.1 754.0,766.0 755.9,768.3 757.8,769.8 759.7,762.8 761.6,761.9 763.5,771.3 765.4,766.3 767.3,772.6 769.2,770.0 771.1,780.0 773.0,780.7 774.9,780.8 776.8,779.8 778.7,780.8 780.6,780.5 782.5,783.9 784.4,784.4 786.3,786.1 788.2,783.9 790.1,793.2 792.0,788.3 793.9,792.8 795.8,793.0 797.7,785.5 799.6,783.1 801.5,794.2 803.4,788.7 805.3,790.9 807.2,790.1 809.1,792.0 811.0,787.7 812.9,792.3 814.8,791.6 816.7,793.9 818.6,786.2 820.5,798.2 822.4,797.0 824.3,790.3 826.2,794.5 828.1,797.9 830.0,800.7 831.9,798.6 833.8,803.7 835.7,799.0 837.6,795.4 839.5,796.8 841.4,802.0 843.3,797.3 845.2,802.7 847.1,803.5 849.0,802.1 850.9,804.3 852.8,800.6 854.7,801.9 856.6,800.4 858.5,801.0 860.4,798.1 862.3,802.4 864.2,801.2 866.1,800.5 868.0,806.8 870.0,808.6 872.0,806.3 874.0,813.1 876.0,812.2 878.0,813.2 880.0,807.9 882.0,804.5 884.0,811.7 886.0,810.7 888.1,812.0 890.1,810.7 892.1,813.5 894.1,809.0 896.1,813.4 898.2,808.8 900.2,807.5 902.2,812.9 904.2,818.6 906.2,811.0 908.2,817.4 910.2,813.4 912.3,814.0 914.3,815.1 916.3,815.5 918.3,812.3 920.3,814.5 922.3,814.9 924.4,815.4 926.4,811.2 928.4,816.3 930.4,818.0 932.4,820.0 934.5,811.8 936.5,816.2 938.5,812.1 940.5,818.3 942.5,819.5 944.5,816.2 946.5,816.0 948.6,821.0 950.6,822.9 952.6,820.3 954.6,821.2 956.6,815.3 958.7,819.3 960.7,821.0 962.7,820.6 964.7,823.6 966.7,817.5 968.7,815.2 970.8,822.1 972.8,820.0 974.8,822.5 976.8,823.9 978.8,823.8 980.8,826.1 982.8,826.0 984.9,819.0 986.9,823.0 988.9,828.2 990.9,823.2 992.9,827.4 995.0,825.7 997.0,825.7 999.0,831.3 1001.0,830.8 1003.0,827.7 1005.0,830.5 1007.0,825.1 1009.1,826.6 1011.1,830.5 1013.1,828.4 1015.1,826.2 1017.1,830.2 1019.2,830.3 1021.2,833.0 1023.2,832.6 1025.2,830.0 1027.2,829.5 1029.2,830.4 1031.2,830.1 1033.3,834.2 1035.3,834.5 1037.3,834.0 1039.3,831.8 1041.3,830.5 1043.3,833.5 1045.4,830.7 1047.4,832.3 1049.4,827.9 1051.4,830.7 1053.4,835.0 1055.5,828.8 1057.5,827.5 1059.5,830.5 1061.5,834.7 1063.5,834.2 1065.5,829.8 1067.5,829.6 1069.6,830.4 1071.6,828.5 1073.6,830.8 1075.6,830.2 1077.6,827.6 1079.7,829.9 1081.7,830.9 1083.7,829.6 1085.7,829.2 1087.7,834.9 1089.8,838.1 1091.8,833.7 1093.8,834.1 1095.9,837.2 1097.9,836.2 1099.6,834.7 1101.3,839.6 1103.0,833.5 1104.8,833.6 1106.5,833.1 1108.3,831.9 1110.2,832.2 1112.0,831.7 1113.9,831.3 1116.0,842.0 1118.0,852.9 1119.9,836.5 1121.7,823.3 1123.6,807.4 1125.4,810.6 1127.2,814.1 1129.0,815.3 1131.2,801.1 1133.3,786.8 1135.3,787.9 1137.4,788.1 1139.5,816.5 1141.6,846.7 1143.7,831.2 1145.7,810.5 1147.8,817.7 1149.9,822.3 1152.0,825.5 1154.1,823.9 1156.1,823.4 1158.2,822.9 1160.5,825.1 1162.8,827.4 1165.1,827.3 1167.4,833.4 1169.7,837.5 1172.0,838.5 1173.8,841.9 1175.7,842.2 1177.5,839.8 1179.3,841.7 1181.2,842.3 1183.0,842.5 1185.0,843.1 1187.0,840.3 1189.0,841.1 1191.0,841.1 1193.0,841.1 1195.0,839.7 1197.0,838.7 1199.2,841.2 1201.3,839.0 1203.5,844.2 1205.7,843.9 1207.8,844.0 1210.0,846.3 1212.0,843.5 1214.0,842.2 1216.0,843.4 1218.1,841.8 1220.1,842.8 1222.1,839.7 1224.1,838.1 1226.1,838.0 1228.1,840.8 1230.1,838.0 1232.2,836.6 1234.2,835.5 1236.2,834.8 1238.2,835.4 1240.2,836.6 1242.3,837.9 1244.3,838.3 1246.3,837.6 1248.3,836.7 1250.4,836.9 1252.4,835.4 1254.4,836.7 1256.4,838.1 1258.4,836.8 1260.5,837.3 1262.5,834.6 1264.5,837.2 1266.5,836.0 1268.5,835.5 1270.6,835.8 1272.6,832.3 1274.7,834.3 1276.7,833.8 1278.8,837.1 1280.8,834.4 1282.9,833.9 1284.9,835.5 1287.0,832.9 1289.0,835.9 1291.0,833.6 1293.0,834.9 1294.9,834.2 1296.9,836.9 1298.9,833.4 1300.9,837.6 1302.9,836.0 1304.8,837.6 1306.8,836.5 1308.8,838.7 1310.7,838.8 1312.7,839.4 1314.6,839.2 1316.5,839.7 1318.4,840.3 1320.4,838.7 1322.3,837.8 1324.2,837.8 1326.1,840.4 1328.1,839.2 1330.0,841.2 1331.9,840.2 1333.9,839.2 1335.8,842.1 1337.7,843.9 1339.6,841.5 1341.6,840.9 1343.5,841.4 1345.4,844.0 1347.3,842.5 1349.3,843.1 1351.2,844.9 1353.1,843.9 1355.1,843.9 1357.0,842.9 1358.9,842.7 1360.8,843.6 1362.8,843.4 1364.7,843.9 1366.6,842.3 1368.5,843.3 1370.5,843.3 1372.4,842.7 1374.3,843.7 1376.3,844.7 1378.2,844.0 1380.1,844.3 1382.0,843.3 1384.0,845.4 1385.9,845.2 1387.8,845.3 1389.7,845.0 1391.7,847.3 1393.6,850.2 1395.5,847.2 1397.4,846.5 1399.4,846.7 1401.3,845.1 1403.2,845.7 1405.1,844.5 1407.0,844.2 1408.9,845.1 1410.9,844.8 1412.8,844.1 1414.7,843.0 1416.7,845.2 1418.8,844.2 1420.8,847.4 1422.8,846.8 1424.8,848.1 1426.9,849.9 1428.9,850.4 1430.8,847.8 1432.7,848.9 1434.7,849.4 1436.6,847.3 1438.5,845.3 1440.4,848.1 1442.3,847.9 1444.2,848.2 1446.2,847.5 1448.1,847.3 1450.0,847.2 1451.9,848.7 1453.8,847.6 1455.6,847.6 1457.5,846.4 1459.4,848.4 1461.2,846.7 1463.1,847.9 1465.0,844.3 1467.5,847.3 1470.0,846.8 1472.1,843.7 1474.2,843.3 1476.4,839.5 1478.5,836.2 1480.6,833.0 1482.6,836.8 1484.5,836.0 1486.5,836.5 1488.5,835.3 1490.3,831.8 1492.0,824.7 1493.8,817.5 1495.9,811.9 1498.0,804.1 1500.1,801.2 1502.2,793.2 1504.3,789.9 1506.3,775.0 1508.2,761.6 1510.2,749.7 1512.2,736.3 1514.2,726.6 1516.2,720.1 1518.1,713.0 1520.1,704.0 1522.1,692.7 1524.1,684.2 1526.1,673.4 1528.1,664.0 1530.2,655.8 1532.3,646.7 1534.4,637.5 1536.5,626.7 1538.6,620.4 1540.6,613.7 1542.5,607.5 1544.5,602.3 1546.5,598.6 1548.3,583.9 1550.0,573.0 1551.8,565.5 1553.6,557.3 1555.3,553.9 1557.1,544.7 1559.1,532.2 1561.1,520.7 1563.3,521.6 1565.5,521.9 1567.7,522.8 1569.5,524.0 1571.2,525.5 1573.0,527.7 1574.7,532.1 1576.5,533.8 1578.2,535.4 1580.0,528.8 1581.7,522.4 1583.5,515.8 1585.7,513.3 1587.9,512.5 1590.1,512.1 1592.3,522.1 1594.5,526.1 1596.7,534.4 1598.8,536.1 1600.9,544.5 1603.0,546.8 1605.1,552.5 1607.2,558.4 1609.2,562.3 1611.2,566.0 1613.2,569.6 1615.2,572.7 1616.9,580.6 1618.7,593.3 1620.4,599.3 1622.5,601.2 1624.6,604.6 1626.8,604.8 1628.9,605.9 1631.0,607.1 1633.0,613.1 1635.0,613.2 1636.9,617.3 1638.9,622.7 1640.6,618.7 1642.3,622.1 1644.0,627.0 1645.8,623.9 1647.7,625.7 1649.5,627.3 1651.8,626.9 1654.2,633.6 1656.6,623.3 1659.0,613.9 1660.8,612.1 1662.5,609.0 1664.3,604.7 1666.1,600.6 1667.9,606.5 1669.7,609.3 1671.4,610.4 1673.2,611.4 1675.6,599.8 1678.0,590.8 1679.9,590.7 1681.8,594.0 1683.7,596.0 1685.6,596.5 1687.5,594.9 1689.8,585.8 1692.2,578.7 1694.0,579.8 1695.8,582.0 1697.5,585.1 1699.3,581.6 1701.1,569.9 1702.9,542.9 1704.9,542.8 1706.8,542.6 1708.8,542.9 1710.7,546.0 1712.6,552.4 1714.5,547.8 1716.4,553.2 1718.3,551.4 1720.7,564.4 1723.1,573.8 1725.4,585.7 1727.8,585.4 1730.2,605.5 1732.6,633.2 1734.9,640.4 1737.3,652.8 1739.7,658.7 1742.1,664.4 1743.8,680.9 1745.6,701.4 1747.6,710.1 1749.6,712.2 1751.6,715.6 1753.4,720.1 1755.2,717.5 1756.9,724.3 1758.7,723.1 1761.1,731.1 1763.4,744.3 1765.8,742.4 1768.2,739.1 1770.7,744.2 1773.2,749.8 1775.6,754.4 1778.0,753.2 1780.5,755.4 1783.0,771.7 1784.8,777.0 1786.7,787.0 1788.5,796.6 1790.3,808.9 1791.6,808.3 1792.9,821.8 1794.1,816.5 1795.4,829.7 1796.7,822.9 1798.2,831.8 1799.6,823.8 1801.0,831.5 1802.5,818.7 1803.9,841.6 1805.2,824.9 1806.6,843.2 1808.0,839.4 1809.3,855.6 1810.7,845.7 1812.0,855.2 1813.4,849.8 1814.7,861.0 1816.0,841.4 1817.3,860.6 1818.7,834.6 1820.0,845.0 1821.4,822.3 1822.8,842.2 1824.2,822.4 1825.6,824.6 1827.0,802.0 1828.3,846.2 1829.7,841.0 1831.0,888.0 1832.4,871.4 1833.8,873.8 1835.3,847.2 1836.7,869.9 1838.1,855.4 1839.6,885.0 1841.0,868.8 1842.4,888.8 1843.8,872.8 1845.1,907.6 1846.5,880.4 1847.7,892.5 1849.0,854.3 1850.2,879.9 1851.4,837.2 1852.9,876.1 1854.5,848.3 1856.0,890.2 1857.3,863.6 1858.5,890.7 1859.8,849.2 1861.1,885.3 1862.3,865.7 1863.5,890.5 1864.8,892.3 1866.0,910.4 1867.2,895.1 1868.5,940.9 1869.7,903.6 1870.9,942.8 1872.2,918.4 1873.5,908.1 1874.7,862.8 1876.0,868.1 1877.4,841.9 1878.8,856.7 1880.3,799.7 1881.7,816.3 1883.1,757.5 1884.3,830.0 1885.5,834.7 1886.8,904.7 1888.0,914.4 1889.5,918.2 1891.0,892.1 1892.4,893.1 1893.9,849.3 1895.3,875.6 1896.9,835.0 1898.4,915.1 1900.0,883.5 1901.5,951.0 1903.0,934.8 1904.7,976.8 1906.3,968.3 1907.7,979.8 1909.0,911.3" stroke="#00f"/>
</g>
<g stroke="#000" stroke-width="5.2" fill="none">
<line x1="550.5" y1="227.9" x2="550.5" y2="1311.5" stroke-dasharray="24 22.03"/>
<line x1="1557.7" y1="133.4" x2="1557.7" y2="1311.5" stroke-dasharray="23.8 22.31"/>
<line x1="1708.8" y1="312.6" x2="1708.8" y2="1311.5" stroke-dasharray="23.8 22.22"/>
<line x1="1773.6" y1="550.5" x2="1773.6" y2="1311.5" stroke-dasharray="23.8 22.18"/>
</g>
<text x="180.0" y="1378.3" text-anchor="middle" style="font-family:'Liberation Sans',Arial,sans-serif;font-size:53px">4000</text>
<text x="468.6" y="1378.3" text-anchor="middle" style="font-family:'Liberation Sans',Arial,sans-serif;font-size:53px">3500</text>
<text x="757.2" y="1378.3" text-anchor="middle" style="font-family:'Liberation Sans',Arial,sans-serif;font-size:53px">3000</text>
<text x="1045.8" y="1378.3" text-anchor="middle" style="font-family:'Liberation Sans',Arial,sans-serif;font-size:53px">2500</text>
<text x="1334.3" y="1378.3" text-anchor="middle" style="font-family:'Liberation Sans',Arial,sans-serif;font-size:53px">2000</text>
<text x="1622.9" y="1378.3" text-anchor="middle" style="font-family:'Liberation Sans',Arial,sans-serif;font-size:53px">1500</text>
<text x="1911.5" y="1378.3" text-anchor="middle" style="font-family:'Liberation Sans',Arial,sans-serif;font-size:53px">1000</text>
<text x="772" y="1490" style="font-family:'Liberation Sans',Arial,sans-serif;font-size:64px;letter-spacing:0.48px">Wavenumber, cm</text>
<text><tspan x="1271.2" y="1454.5" style="font-family:'Liberation Sans',Arial,sans-serif;font-size:36px">−</tspan><tspan x="1295.1" y="1454.5" style="font-family:'Liberation Sans',Arial,sans-serif;font-size:36px">1</tspan></text>
<text transform="translate(73,988.3) rotate(-90)" style="font-family:'Liberation Sans',Arial,sans-serif;font-size:64px;letter-spacing:-0.37px">IR absorbance, arb. units</text>
<text><tspan x="844.7" y="142.6" style="font-family:'Liberation Sans',Arial,sans-serif;font-size:64px;font-style:italic">x</tspan><tspan x="872.6" y="142.6" style="font-family:'Liberation Sans',Arial,sans-serif;font-size:64px">,</tspan><tspan x="890.4" y="142.6" style="font-family:'Liberation Sans',Arial,sans-serif;font-size:64px"> </tspan><tspan x="908.0" y="142.6" style="font-family:'Liberation Sans',Arial,sans-serif;font-size:64px">a</tspan><tspan x="945.2" y="142.6" style="font-family:'Liberation Sans',Arial,sans-serif;font-size:64px">t</tspan><tspan x="962.8" y="142.6" style="font-family:'Liberation Sans',Arial,sans-serif;font-size:64px">.</tspan><tspan x="981.9" y="142.6" style="font-family:'Liberation Sans',Arial,sans-serif;font-size:64px">%</tspan><tspan x="1038.8" y="142.6" style="font-family:'Liberation Sans',Arial,sans-serif;font-size:64px"> </tspan><tspan x="1055.4" y="142.6" style="font-family:'Liberation Sans',Arial,sans-serif;font-size:64px">S</tspan><tspan x="1097.0" y="142.6" style="font-family:'Liberation Sans',Arial,sans-serif;font-size:64px">n</tspan><tspan x="1131.7" y="142.6" style="font-family:'Liberation Sans',Arial,sans-serif;font-size:64px">:</tspan></text>
<path d="M823,198.6H969.5" stroke="#000" stroke-width="5.2"/>
<path d="M823,277H969.5" stroke="#f00" stroke-width="5.2"/>
<path d="M823,354.3H969.5" stroke="#00f" stroke-width="5.2"/>
<text><tspan x="983.4" y="220.5" style="font-family:'Liberation Sans',Arial,sans-serif;font-size:63px">(</tspan><tspan x="1004.9" y="220.5" style="font-family:'Liberation Sans',Arial,sans-serif;font-size:63px">1</tspan><tspan x="1044.0" y="220.5" style="font-family:'Liberation Sans',Arial,sans-serif;font-size:63px">)</tspan><tspan x="1065.0" y="220.5" style="font-family:'Liberation Sans',Arial,sans-serif;font-size:63px"> </tspan><tspan x="1080.1" y="220.5" style="font-family:'Liberation Sans',Arial,sans-serif;font-size:63px">0</tspan></text>
<text><tspan x="983.6" y="298.0" style="font-family:'Liberation Sans',Arial,sans-serif;font-size:63px">(</tspan><tspan x="1003.5" y="298.0" style="font-family:'Liberation Sans',Arial,sans-serif;font-size:63px">2</tspan><tspan x="1044.5" y="298.0" style="font-family:'Liberation Sans',Arial,sans-serif;font-size:63px">)</tspan><tspan x="1065.5" y="298.0" style="font-family:'Liberation Sans',Arial,sans-serif;font-size:63px"> </tspan><tspan x="1079.6" y="298.0" style="font-family:'Liberation Sans',Arial,sans-serif;font-size:63px">0</tspan><tspan x="1115.1" y="298.0" style="font-family:'Liberation Sans',Arial,sans-serif;font-size:63px">.</tspan><tspan x="1132.6" y="298.0" style="font-family:'Liberation Sans',Arial,sans-serif;font-size:63px">1</tspan><tspan x="1165.9" y="298.0" style="font-family:'Liberation Sans',Arial,sans-serif;font-size:63px">4</tspan></text>
<text><tspan x="983.6" y="375.5" style="font-family:'Liberation Sans',Arial,sans-serif;font-size:63px">(</tspan><tspan x="1006.2" y="375.5" style="font-family:'Liberation Sans',Arial,sans-serif;font-size:63px">3</tspan><tspan x="1044.3" y="375.5" style="font-family:'Liberation Sans',Arial,sans-serif;font-size:63px">)</tspan><tspan x="1065.3" y="375.5" style="font-family:'Liberation Sans',Arial,sans-serif;font-size:63px"> </tspan><tspan x="1079.1" y="375.5" style="font-family:'Liberation Sans',Arial,sans-serif;font-size:63px">1</tspan><tspan x="1116.4" y="375.5" style="font-family:'Liberation Sans',Arial,sans-serif;font-size:63px">3</tspan></text>
<text><tspan x="708.1" y="542.5" style="font-family:'Liberation Sans',Arial,sans-serif;font-size:62px">(</tspan><tspan x="730.1" y="542.5" style="font-family:'Liberation Sans',Arial,sans-serif;font-size:62px">2</tspan><tspan x="768.7" y="542.5" style="font-family:'Liberation Sans',Arial,sans-serif;font-size:62px">)</tspan></text>
<text><tspan x="653.4" y="692.8" style="font-family:'Liberation Sans',Arial,sans-serif;font-size:62px">(</tspan><tspan x="676.4" y="692.8" style="font-family:'Liberation Sans',Arial,sans-serif;font-size:62px">3</tspan><tspan x="713.9" y="692.8" style="font-family:'Liberation Sans',Arial,sans-serif;font-size:62px">)</tspan></text>
<text><tspan x="636.8" y="857.3" style="font-family:'Liberation Sans',Arial,sans-serif;font-size:62px">(</tspan><tspan x="655.7" y="857.3" style="font-family:'Liberation Sans',Arial,sans-serif;font-size:62px">1</tspan><tspan x="697.7" y="857.3" style="font-family:'Liberation Sans',Arial,sans-serif;font-size:62px">)</tspan></text>
<text transform="translate(437.00,202.50) scale(1.1,1)" style="font-family:'Liberation Sans',Arial,sans-serif;font-size:54px;stroke-width:1.82px">ν</text>
<text><tspan x="468.4" y="201.0" style="font-family:'Liberation Sans',Arial,sans-serif;font-size:64px">(</tspan><tspan x="489.8" y="201.0" style="font-family:'Liberation Sans',Arial,sans-serif;font-size:64px">O</tspan><tspan x="546.5" y="197.8" style="font-family:'Liberation Sans',Arial,sans-serif;font-size:53px">–</tspan><tspan x="576.0" y="201.0" style="font-family:'Liberation Sans',Arial,sans-serif;font-size:64px">H</tspan><tspan x="626.8" y="201.0" style="font-family:'Liberation Sans',Arial,sans-serif;font-size:64px">)</tspan></text>
<text transform="translate(1435.30,111.60) scale(1.1,1)" style="font-family:'Liberation Sans',Arial,sans-serif;font-size:54px;stroke-width:1.82px">ν</text>
<text><tspan x="1465.7" y="133.6" style="font-family:'Liberation Sans',Arial,sans-serif;font-size:38px">a</tspan><tspan x="1486.7" y="133.6" style="font-family:'Liberation Sans',Arial,sans-serif;font-size:38px">s</tspan><tspan x="1507.8" y="109.6" style="font-family:'Liberation Sans',Arial,sans-serif;font-size:64px">(</tspan><tspan x="1528.2" y="109.6" style="font-family:'Liberation Sans',Arial,sans-serif;font-size:64px">C</tspan><tspan x="1574.4" y="109.6" style="font-family:'Liberation Sans',Arial,sans-serif;font-size:64px">O</tspan><tspan x="1624.1" y="133.2" style="font-family:'Liberation Sans',Arial,sans-serif;font-size:38px">3</tspan><tspan x="1649.1" y="109.6" style="font-family:'Liberation Sans',Arial,sans-serif;font-size:64px">)</tspan></text>
<text transform="translate(1638.00,291.50) scale(1.1,1)" style="font-family:'Liberation Sans',Arial,sans-serif;font-size:54px;stroke-width:1.82px">ν</text>
<text><tspan x="1668.1" y="314.0" style="font-family:'Liberation Sans',Arial,sans-serif;font-size:38px">s</tspan><tspan x="1687.2" y="290.0" style="font-family:'Liberation Sans',Arial,sans-serif;font-size:64px">(</tspan><tspan x="1709.5" y="290.0" style="font-family:'Liberation Sans',Arial,sans-serif;font-size:64px">C</tspan><tspan x="1755.7" y="290.0" style="font-family:'Liberation Sans',Arial,sans-serif;font-size:64px">O</tspan><tspan x="1803.9" y="314.0" style="font-family:'Liberation Sans',Arial,sans-serif;font-size:38px">3</tspan><tspan x="1829.5" y="290.0" style="font-family:'Liberation Sans',Arial,sans-serif;font-size:64px">)</tspan></text>
<text transform="translate(1719.55,515.60)" style="font-family:'Liberation Sans',Arial,sans-serif;font-size:56px;stroke-width:2.00px">δ</text>
<text><tspan x="1747.0" y="515.3" style="font-family:'Liberation Sans',Arial,sans-serif;font-size:64px">(</tspan><tspan x="1767.8" y="515.3" style="font-family:'Liberation Sans',Arial,sans-serif;font-size:64px">O</tspan><tspan x="1819.0" y="512.1" style="font-family:'Liberation Sans',Arial,sans-serif;font-size:53px">–</tspan><tspan x="1844.3" y="515.3" style="font-family:'Liberation Sans',Arial,sans-serif;font-size:64px">H</tspan><tspan x="1895.6" y="515.3" style="font-family:'Liberation Sans',Arial,sans-serif;font-size:64px">)</tspan></text>
<rect x="180.5" y="31.8" width="1731.5" height="1279.7" fill="none" stroke="#000" stroke-width="5.5"/>
<path d="M469.1,1311.5V1284.0 M757.7,1311.5V1284.0 M1046.2,1311.5V1284.0 M1334.8,1311.5V1284.0 M1623.4,1311.5V1284.0 M180.5,245.1H209.5 M180.5,458.4H209.5 M180.5,671.6H209.5 M180.5,884.9H209.5 M180.5,1098.2H209.5" stroke="#000" stroke-width="5" fill="none"/>
</svg>
</body></html>
